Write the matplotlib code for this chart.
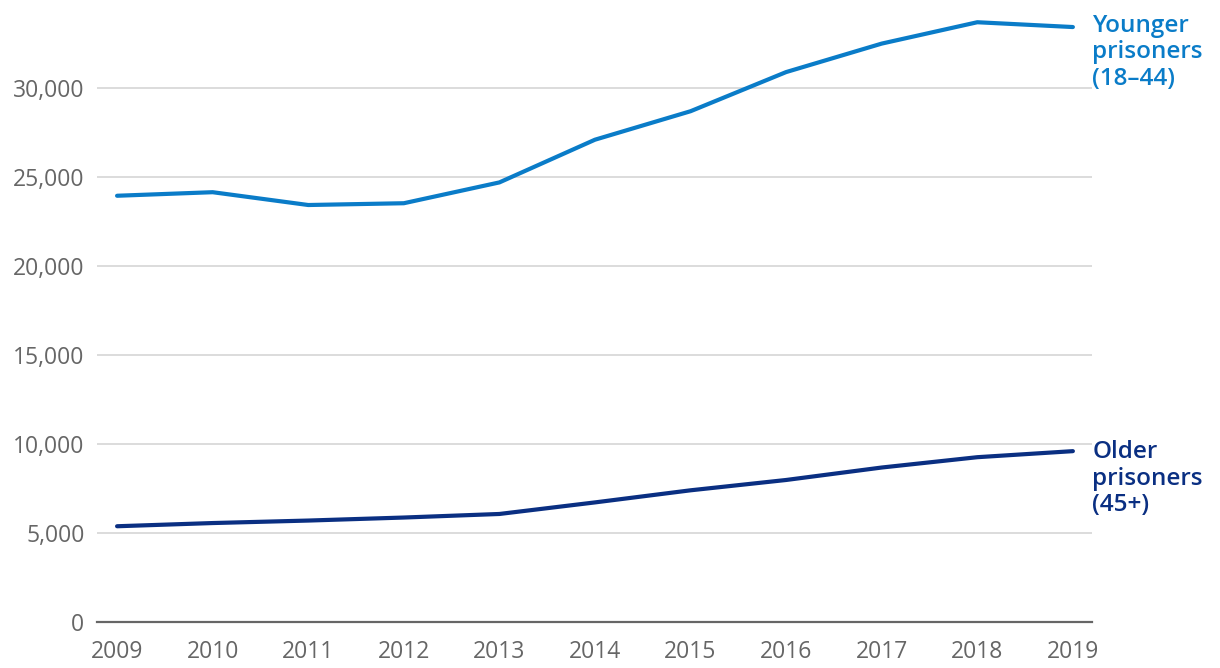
import matplotlib
matplotlib.use("Agg")
import matplotlib.pyplot as plt
from matplotlib.ticker import FuncFormatter

years = [2009, 2010, 2011, 2012, 2013, 2014, 2015, 2016, 2017, 2018, 2019]
younger = [23950, 24150, 23430, 23530, 24700, 27100, 28700, 30900, 32500, 33700, 33430]
older = [5380, 5560, 5700, 5870, 6070, 6720, 7400, 7980, 8680, 9260, 9600]
yticks = [0, 5000, 10000, 15000, 20000, 25000, 30000]

c_young = "#0a7cc8"
c_old = "#0a2f82"

plt.rcParams['font.family'] = ['Open Sans', 'DejaVu Sans']

fig = plt.figure(figsize=(12.2, 6.68), dpi=100)
ax = fig.add_axes([97/1220, 46/668, (1092-97)/1220, (622-8)/668])

ax.plot(years, younger, color=c_young, lw=3.0, solid_capstyle='round', zorder=3)
ax.plot(years, older, color=c_old, lw=3.0, solid_capstyle='round', zorder=3)

ax.set_xlim(2008.79, 2019.2)
ax.set_ylim(0, 34500)
ax.set_yticks(yticks)
ax.set_xticks(years)
ax.yaxis.set_major_formatter(FuncFormatter(lambda v, p: f"{int(v):,}"))
ax.grid(axis='y', color='#d6d6d6', lw=1.2)
ax.set_axisbelow(True)
for s in ['top', 'right', 'left']:
    ax.spines[s].set_visible(False)
ax.spines['bottom'].set_color('#666666')
ax.spines['bottom'].set_linewidth(1.6)
ax.tick_params(axis='both', length=0, labelsize=16.5, labelcolor='#666666')
ax.tick_params(axis='y', pad=9)
ax.tick_params(axis='x', pad=13)

ax.annotate("Younger\nprisoners\n(18–44)", xy=(1.0005, 1), xycoords='axes fraction',
            xytext=(0, -4), textcoords='offset points',
            color=c_young, fontsize=17.5, fontweight='semibold', va='top', ha='left',
            linespacing=1.15, annotation_clip=False)
ax.annotate("Older\nprisoners\n(45+)", xy=(1.0005, 10000), xycoords=('axes fraction', 'data'),
            xytext=(0, 3), textcoords='offset points',
            color=c_old, fontsize=17.5, fontweight='semibold', va='top', ha='left',
            linespacing=1.15, annotation_clip=False)

fig.savefig("out.png", dpi=100)
